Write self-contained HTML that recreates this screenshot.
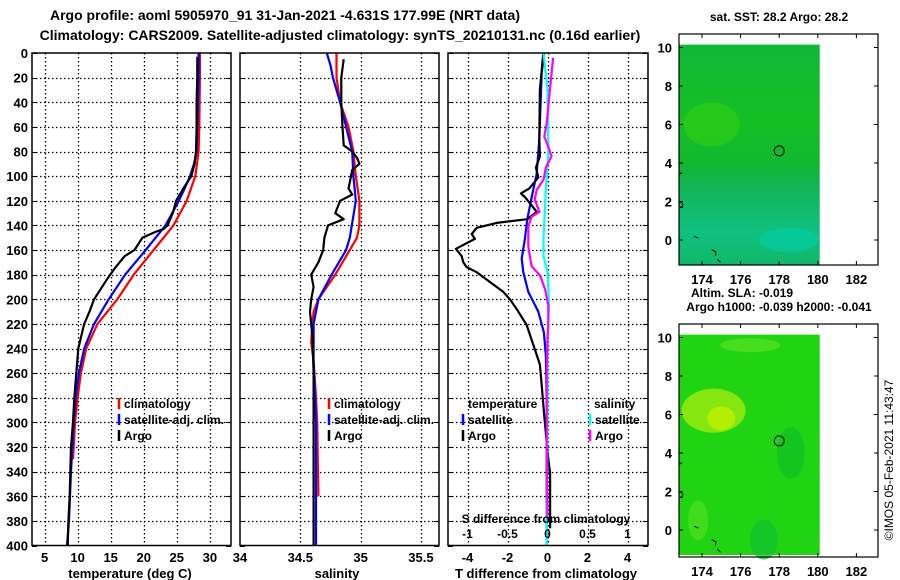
<!DOCTYPE html>
<html><head><meta charset="utf-8">
<style>
html,body{margin:0;padding:0;background:#fff;}
svg{display:block;font-family:"Liberation Sans",sans-serif;font-weight:bold;}
</style></head>
<body>
<svg id="chart" width="900" height="580" viewBox="0 0 900 580" xmlns="http://www.w3.org/2000/svg">
<text x="285" y="20" font-size="14" text-anchor="middle">Argo profile: aoml 5905970_91 31-Jan-2021 -4.631S 177.99E (NRT data)</text>
<text x="340" y="40" font-size="14" text-anchor="middle">Climatology: CARS2009. Satellite-adjusted climatology: synTS_20210131.nc (0.16d earlier)</text>
<g id="plots"></g>
<g id="maps"></g>
<text font-size="12" font-weight="normal" transform="translate(893,460) rotate(-90)" text-anchor="middle">©IMOS 05-Feb-2021 11:43:47</text>
</svg>
<script>
// ---- data ----
const tempDepthsClim = [0,20,40,60,80,100,120,140,160,180,200,220,240,260,280,300,320,330];
const tempClim =       [28.5,28.5,28.45,28.4,28.3,27.8,26.5,24.5,21.5,18.5,16,13,11.3,10.5,10,9.6,9.4,9.3];
const tempDepthsSat = [0,20,40,60,80,90,100,110,120,140,160,180,200,220,240,260,280,300,340,380,400];
const tempSat =       [28.3,28.3,28.2,28.1,28,27.6,27,26.2,25.3,23.3,20.3,17.2,14.7,12.5,11,10.2,9.7,9.4,9,8.7,8.4];
const tempDepthsArgo = [3,20,40,60,80,90,100,110,120,130,140,143,145,150,160,165,175,185,200,210,220,240,260,280,300,320,340,360,380,400];
const tempArgo =       [28.1,28.1,28.0,28.0,27.9,27.7,27.2,26,24.9,24.4,23.6,23.0,21.9,19.8,18.6,17.1,15.6,14.3,12.5,11.8,11,10.1,9.8,9.5,9.3,9,8.9,8.8,8.6,8.5];

const salDepthsClim = [0,20,40,60,80,100,120,140,150,160,180,200,210,220,235,250,280,300,360];
const salClim =       [34.80,34.80,34.83,34.90,34.94,34.96,34.99,34.99,34.97,34.91,34.79,34.65,34.61,34.60,34.59,34.61,34.63,34.64,34.65];
const salDepthsSat = [0,10,20,30,40,60,80,100,120,150,160,180,200,220,250,300,400];
const salSat =       [34.72,34.75,34.77,34.80,34.83,34.88,34.93,34.94,34.96,34.91,34.88,34.76,34.65,34.61,34.61,34.63,34.63];
const salDepthsArgo = [5,20,40,60,75,80,85,90,95,105,110,115,120,130,135,140,150,160,170,180,190,200,210,230,260,300,400];
const salArgo =       [34.86,34.84,34.84,34.85,34.86,34.93,34.97,34.99,34.93,34.91,34.90,34.93,34.83,34.79,34.86,34.73,34.70,34.69,34.65,34.59,34.61,34.59,34.58,34.60,34.61,34.61,34.61];

const dTDepthsArgo = [0,30,70,84,93,101,110,114,117,122,129,135,138,142,147,151,159,165,170,174,178,186,194,200,208,221,237,253,270,295,330,341,379,386];
const dTArgo =       [-0.21,-0.38,-0.41,-0.38,-0.58,-0.46,-0.91,-1.33,-1.13,-0.88,-0.54,-1.01,-2.54,-3.54,-3.79,-3.63,-4.58,-4.29,-4.21,-4.04,-3.54,-2.88,-2.21,-1.88,-1.54,-1.04,-0.71,-0.38,-0.29,-0.16,0.04,0.13,0.13,0.13];
const dTDepthsSat = [0,16,70,98,117,135,151,167,178,194,210,227,246,286,400];
const dTSat =       [-0.16,-0.29,-0.41,-0.54,-0.79,-1.01,-1.13,-1.29,-1.21,-0.96,-0.46,-0.18,-0.08,-0.04,-0.04];
const dSDepthsArgo = [4,30,57,68,76,84,93,103,111,119,129,133,141,157,173,181,192,205,221,232,259,313,378];
const dSArgo =       [0.07,0.03,-0.01,-0.04,0.01,0.05,-0.02,-0.05,-0.135,-0.16,-0.1,-0.2,-0.24,-0.24,-0.2,-0.09,-0.03,0.01,0.01,0,-0.01,-0.01,0];
const dSDepthsSat = [0,30,80,110,151,165,178,205,232,286,400];
const dSSat =       [-0.05,0,0.01,-0.02,-0.05,-0.05,0,0.02,0,0,-0.01];

const depthTicks = [0,20,40,60,80,100,120,140,160,180,200,220,240,260,280,300,320,340,360,380,400];
const tempTicks = [5,10,15,20,25,30];
const salTicks = [34,34.5,35,35.5];
const salTickLabels = ['34','34.5','35','35.5'];
const dTTicks = [-4,-2,0,2,4];
const dSTicks = [-1,-0.5,0,0.5,1];
const dSTickLabels = ['-1','-0.5','0','0.5','1'];
const lonTicks = [174,176,178,180,182];
const latTicks = [0,2,4,6,8,10];
const floatLon = 178.0, floatLat = 4.63;

// ---- helpers ----
const NS='http://www.w3.org/2000/svg';
const plots=document.getElementById('plots');
const mapsG=document.getElementById('maps');
function mk(tag,attrs,parent){const e=document.createElementNS(NS,tag);for(const k in attrs)e.setAttribute(k,attrs[k]);(parent||plots).appendChild(e);return e;}
function txt(s,x,y,size,anchor,parent,name){const t=mk('text',{x:x,y:y,'font-size':size,'text-anchor':anchor||'start'},parent);t.textContent=s;


return t;}

const Y0=53,Y1=545.5;
function yD(d){return Y0+(d/400)*(Y1-Y0);}

function panel(x0,x1,vmin,vmax,name){
  const sx=v=>x0+(v-vmin)/(vmax-vmin)*(x1-x0);
  const g=mk('g',{});
  
  
  return {x0,x1,sx,g};
}
function grid(p,xvals){
  depthTicks.forEach(d=>{
    const y=Math.round(yD(d))+0.5;
    if(d>0&&d<400){const l=mk('line',{x1:p.x0,x2:p.x1,y1:y,y2:y,stroke:'#000','stroke-width':1.3,'stroke-dasharray':'1.5,2.5'},p.g);
    
    }
    mk('line',{x1:p.x0,x2:p.x0+5,y1:y,y2:y,stroke:'#000','stroke-width':1},p.g);
    mk('line',{x1:p.x1-5,x2:p.x1,y1:y,y2:y,stroke:'#000','stroke-width':1},p.g);
  });
  xvals.forEach(v=>{const x=Math.round(p.sx(v))+0.5;if(x>p.x0+1&&x<p.x1-1){
    const l=mk('line',{x1:x,x2:x,y1:Y0,y2:Y1,stroke:'#000','stroke-width':1.3,'stroke-dasharray':'1.5,2.5'},p.g);
    
    }});
}
function frame(p){const r=mk('rect',{x:p.x0,y:Y0,width:p.x1-p.x0,height:Y1-Y0,fill:'none',stroke:'#000','stroke-width':1.5},p.g);

}
function series(p,sxf,depths,vals,color,name){
  const pts=depths.map((d,i)=>sxf(vals[i]).toFixed(1)+','+yD(d).toFixed(1)).join(' ');
  const pl=mk('polyline',{points:pts,fill:'none',stroke:color,'stroke-width':2.2,'stroke-linejoin':'round'},p.g);
  
  
}
function legendEntry(p,x,y,color,label,name){
  mk('line',{x1:x,x2:x,y1:y-10,y2:y+1,stroke:color,'stroke-width':2.5},p.g);
  txt(label,x+5,y,12,'start',p.g,name);
}

// ---- panel 1: temperature ----
const p1=panel(32,231,3.1,33.2,'temperature-panel');
grid(p1,tempTicks);
series(p1,p1.sx,tempDepthsClim,tempClim,'#ff0000','temperature-climatology-line');
series(p1,p1.sx,tempDepthsSat,tempSat,'#0000ff','temperature-satellite-line');
series(p1,p1.sx,tempDepthsArgo,tempArgo,'#000000','temperature-argo-line');
frame(p1);
depthTicks.forEach(d=>txt(String(d),28,yD(d)+5,13,'end',p1.g,'depth-tick-label'));
tempTicks.forEach(v=>txt(String(v),p1.sx(v),562,13,'middle',p1.g,'temperature-tick-label'));
txt('temperature (deg C)',130,578,13,'middle',p1.g,'temperature-axis-title');
legendEntry(p1,119,408,'#ff0000','climatology','legend-climatology');
legendEntry(p1,119,424,'#0000ff','satellite-adj. clim.','legend-satellite-adj');
legendEntry(p1,119,440,'#000000','Argo','legend-argo');

// ---- panel 2: salinity ----
const p2=panel(240,439,34,35.65,'salinity-panel');
grid(p2,salTicks);
series(p2,p2.sx,salDepthsClim,salClim,'#ff0000','salinity-climatology-line');
series(p2,p2.sx,salDepthsSat,salSat,'#0000ff','salinity-satellite-line');
series(p2,p2.sx,salDepthsArgo,salArgo,'#000000','salinity-argo-line');
frame(p2);
salTicks.forEach((v,i)=>txt(salTickLabels[i],p2.sx(v),562,13,'middle',p2.g,'salinity-tick-label'));
txt('salinity',337,578,13,'middle',p2.g,'salinity-axis-title');
legendEntry(p2,329,408,'#ff0000','climatology','legend-climatology');
legendEntry(p2,329,424,'#0000ff','satellite-adj. clim.','legend-satellite-adj');
legendEntry(p2,329,440,'#000000','Argo','legend-argo');

// ---- panel 3: differences ----
const p3=panel(448,648,-4.975,5.025,'difference-panel');
const sxS=v=>547.5+v*80;
grid(p3,dTTicks);
series(p3,p3.sx,dTDepthsSat,dTSat,'#0000ff','temperature-diff-satellite-line');
series(p3,p3.sx,dTDepthsArgo,dTArgo,'#000000','temperature-diff-argo-line');
series(p3,sxS,dSDepthsSat,dSSat,'#00ffff','salinity-diff-satellite-line');
series(p3,sxS,dSDepthsArgo,dSArgo,'#ff00ff','salinity-diff-argo-line');
frame(p3);
dTTicks.forEach(v=>txt(String(v),p3.sx(v),562,13,'middle',p3.g,'t-diff-tick-label'));
txt('T difference from climatology',546,578,13,'middle',p3.g,'t-diff-axis-title');
txt('S difference from climatology',546,523,12,'middle',p3.g,'s-diff-axis-title');
dSTicks.forEach((v,i)=>txt(dSTickLabels[i],sxS(v),538,12,'middle',p3.g,'s-diff-tick-label'));
txt('temperature',468,408,12,'start',p3.g,'legend-temperature-heading');
legendEntry(p3,463,424,'#0000ff','satellite','legend-t-satellite');
legendEntry(p3,463,440,'#000000','Argo','legend-t-argo');
txt('salinity',594,408,12,'start',p3.g,'legend-salinity-heading');
legendEntry(p3,590,424,'#00ffff','satellite','legend-s-satellite');
legendEntry(p3,590,440,'#ff00ff','Argo','legend-s-argo');

// ---- maps ----
function map(top,bottom,lat0y,title,name,fills){
  const g=mk('g',{},mapsG);
  
  
  const lx=lon=>702+(lon-174)*19.3;
  const ly=lat=>lat0y-lat*19.25;
  const X0=679,X1=878;
  const cx0=679,cx1=lx(180.1),cy0=ly(10.15),cy1=ly(-1.3);
  fills(g,cx0,cy0,cx1,cy1,lx,ly);
  const coast=mk('path',{d:`M${cx0} ${ly(3.4)} l3 -2 M${cx0} ${ly(2)} c6 2 4 5 1 6 l3 0 M${lx(173.6)} ${ly(0.2)} l4 2 M${lx(174.5)} ${ly(-0.5)} l4 2 l0 4 M${lx(174.8)} ${ly(-1.0)} l3 3`,fill:'none',stroke:'#000','stroke-width':1},g);
  
  
  const fr=mk('rect',{x:X0,y:top,width:X1-X0,height:bottom-top,fill:'none',stroke:'#000','stroke-width':1.2},g);
  
  
  lonTicks.forEach(v=>{const x=lx(v);
    mk('line',{x1:x,x2:x,y1:top,y2:top+4,stroke:'#000'},g);
    mk('line',{x1:x,x2:x,y1:bottom-4,y2:bottom,stroke:'#000'},g);
    txt(String(v),x,bottom+19,13,'middle',g,'longitude-tick-label');});
  latTicks.forEach(v=>{const y=ly(v);
    mk('line',{x1:X0,x2:X0+4,y1:y,y2:y,stroke:'#000'},g);
    mk('line',{x1:X1-4,x2:X1,y1:y,y2:y,stroke:'#000'},g);
    txt(String(v),672,y+5,13,'end',g,'latitude-tick-label');});
  const c=mk('circle',{cx:lx(floatLon),cy:ly(floatLat),r:5,fill:'none',stroke:'#000','stroke-width':1},g);
  
  
  txt(title,779,top-13,12,'middle',g,'map-title');
}
map(34,265,240,'sat. SST: 28.2 Argo: 28.2','sst-map',(g,x0,y0,x1,y1,lx,ly)=>{
  const defs=mk('defs',{},g);
  const lg=mk('linearGradient',{id:'sstg',x1:0,y1:0,x2:0,y2:1},defs);
  [['0','#10b838'],['0.35','#14c024'],['0.55','#10b830'],['0.62','#12b450'],['0.85','#10c080'],['1','#10b868']].forEach(s=>mk('stop',{offset:s[0],'stop-color':s[1]},lg));
  const r=mk('rect',{x:x0,y:y0,width:x1-x0,height:y1-y0,fill:'url(#sstg)'},g);
  
  
  mk('ellipse',{cx:lx(174.5),cy:ly(6),rx:28,ry:22,fill:'#30d010',opacity:0.6},g);
  mk('ellipse',{cx:lx(178.5),cy:ly(0),rx:30,ry:12,fill:'#00d0a8',opacity:0.6},g);
  txt('Altim. SLA: -0.019',742,297,12,'middle',g,'altimetry-sla-label');
});
map(324,557,530,'Argo h1000: -0.039 h2000: -0.041','sla-map',(g,x0,y0,x1,y1,lx,ly)=>{
  const r=mk('rect',{x:x0,y:y0,width:x1-x0,height:y1-y0,fill:'#20d414'},g);
  
  
  mk('ellipse',{cx:lx(174.6),cy:ly(6.2),rx:32,ry:22,fill:'#90e810',opacity:0.9},g);
  mk('ellipse',{cx:lx(175),cy:ly(5.8),rx:14,ry:12,fill:'#b8f000',opacity:0.9},g);
  mk('ellipse',{cx:lx(176.5),cy:ly(9.6),rx:30,ry:7,fill:'#50e020',opacity:0.8},g);
  mk('ellipse',{cx:lx(178.6),cy:ly(4),rx:14,ry:26,fill:'#10c020',opacity:0.8},g);
  mk('ellipse',{cx:lx(177.2),cy:ly(-0.5),rx:14,ry:20,fill:'#10c030',opacity:0.7},g);
  mk('ellipse',{cx:lx(173.8),cy:ly(0.5),rx:10,ry:20,fill:'#50e020',opacity:0.7},g);
});
</script>
</body></html>
